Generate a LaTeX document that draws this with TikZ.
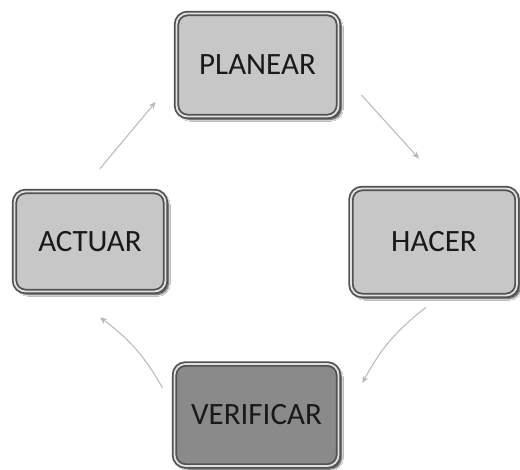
\documentclass[tikz,border=0pt]{standalone}
\usepackage{fontspec}
\setmainfont{Carlito}
\usetikzlibrary{calc,arrows.meta,shadows.blur}
\begin{document}
\begin{tikzpicture}[x=1pt,y=-1pt,
  box/.style={rectangle, rounded corners=11pt, fill=black!22,
    draw=black!68, double=black!12, double distance=1.8pt, line width=1.8pt,
    blur shadow={shadow xshift=3pt, shadow yshift=-3pt, shadow blur steps=6, shadow opacity=80},
    font=\fontsize{31}{34}\selectfont, text=black!90, inner sep=0pt},
  darkbox/.style={box, fill=black!46},
  cyc/.style={draw=black!28, line width=1pt, -{Stealth[length=7pt,width=6pt]}}]
\useasboundingbox (0,0) rectangle (520,470);
\fill[white] (0,0) rectangle (520,470);
\node[box, minimum width=162pt, minimum height=103pt] (plan) at (257.5,65) {PLANEAR};
\node[box, minimum width=166pt, minimum height=107pt] (hac) at (434,242) {HACER};
\node[box, minimum width=151pt, minimum height=100pt] (act) at (90,241.5) {ACTUAR};
\node[darkbox, minimum width=164pt, minimum height=102pt] (ver) at (256.5,415) {VERIFICAR};
\draw[cyc] ($(act.north)+(10,-22)$) -- ($(plan.west)+(-20,37)$);
\draw[cyc] ($(plan.east)+(22,30)$) -- ($(hac.north)+(-15,-29)$);
\draw[cyc] ($(hac.south)+(-8,11)$) to[bend right=12] ($(ver.east)+(23,-32)$);
\draw[cyc] ($(ver.west)+(-11,-27)$) to[bend right=12] ($(act.south)+(10,25)$);
\end{tikzpicture}
\end{document}
